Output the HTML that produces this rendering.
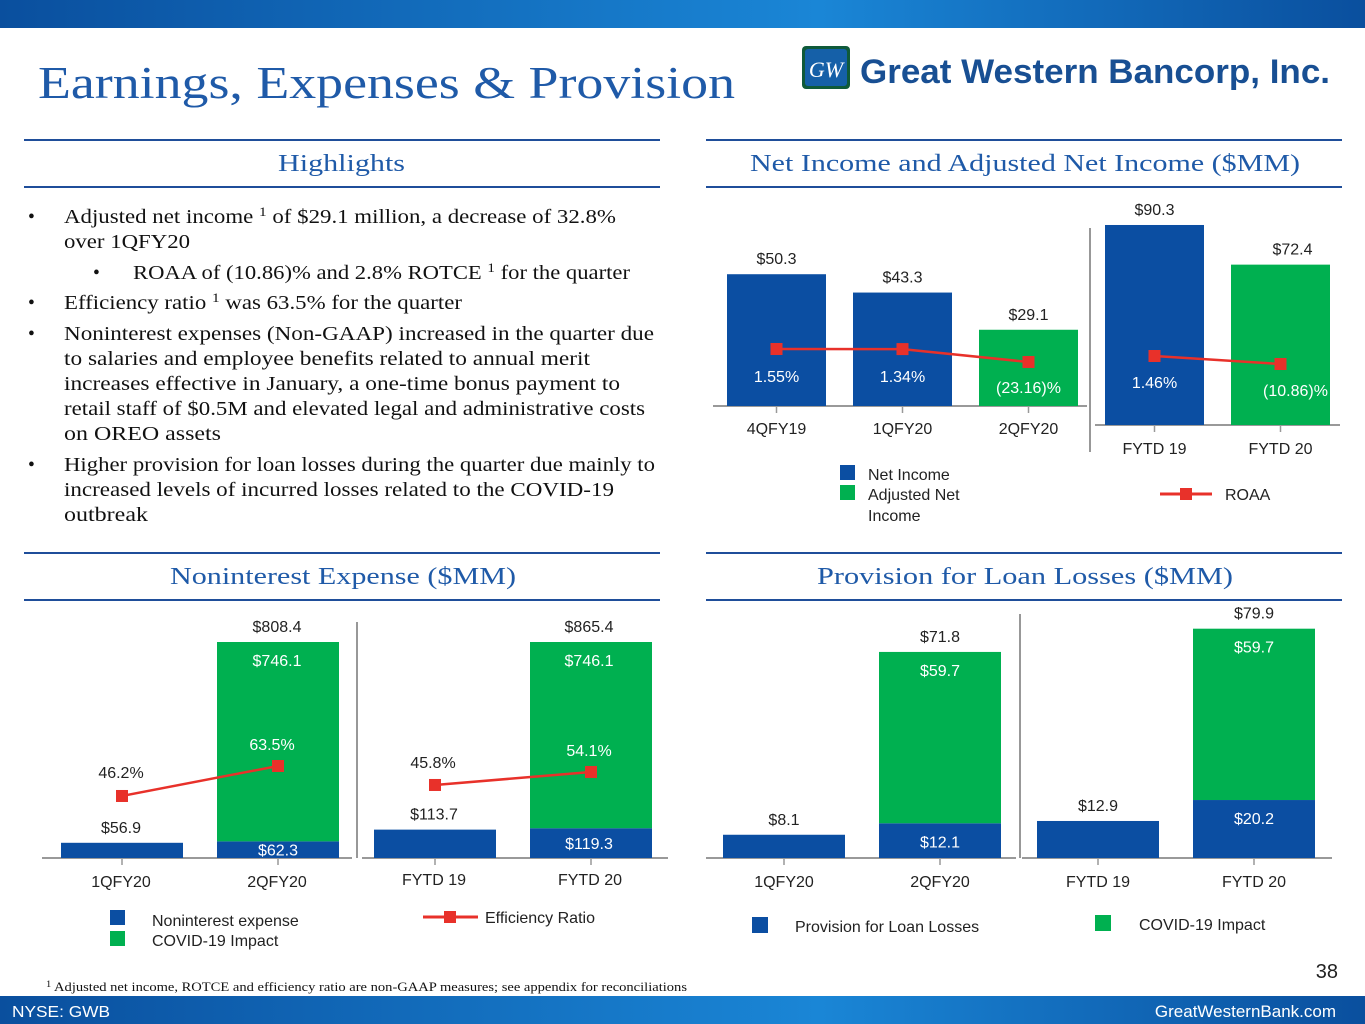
<!DOCTYPE html>
<html><head><meta charset="utf-8"><style>
html,body{margin:0;padding:0;background:#fff}
svg{display:block}
.s{font-family:"Liberation Sans",sans-serif;font-size:16px;fill:#222}
.w{fill:#fff}
.sr{font-family:"Liberation Serif",serif;font-size:19.5px;fill:#111}
.hd{font-family:"Liberation Serif",serif;font-size:24px;fill:#1f5aa8}
</style></head><body>
<svg id="pg" width="1365" height="1024" viewBox="0 0 1365 1024" xmlns="http://www.w3.org/2000/svg">
<defs>
<linearGradient id="tb" x1="0" x2="1"><stop offset="0" stop-color="#0a4f9e"/><stop offset="0.6" stop-color="#1a86d6"/><stop offset="1" stop-color="#0a4f9e"/></linearGradient>
</defs>
<rect x="0" y="0" width="1365" height="28" fill="url(#tb)"/>
<text x="38" y="98" font-family="Liberation Serif,serif" font-size="45" fill="#1f5aa8" textLength="697" lengthAdjust="spacingAndGlyphs">Earnings, Expenses &amp; Provision</text>
<g>
<rect x="802" y="46" width="48" height="43" rx="4" fill="#0f5a3a"/><rect x="805" y="49" width="42" height="37" rx="3" fill="#1560a8"/>
<text x="826" y="77" text-anchor="middle" font-family="Liberation Serif,serif" font-style="italic" font-size="22" fill="#fff">GW</text>
<text x="860" y="83" font-family="Liberation Sans,sans-serif" font-weight="bold" font-size="34" fill="#184f93" textLength="470" lengthAdjust="spacingAndGlyphs">Great Western Bancorp, Inc.</text>
</g>
<g stroke="#1f4e9a" stroke-width="2">
<line x1="24" y1="140" x2="660" y2="140"/><line x1="24" y1="187" x2="660" y2="187"/>
<line x1="706" y1="140" x2="1342" y2="140"/><line x1="706" y1="187" x2="1342" y2="187"/>
<line x1="24" y1="553" x2="660" y2="553"/><line x1="24" y1="600" x2="660" y2="600"/>
<line x1="706" y1="553" x2="1342" y2="553"/><line x1="706" y1="600" x2="1342" y2="600"/>
</g>
<text class="hd" x="278" y="171" textLength="127" lengthAdjust="spacingAndGlyphs">Highlights</text>
<text class="hd" x="750" y="171" textLength="550" lengthAdjust="spacingAndGlyphs">Net Income and Adjusted Net Income ($MM)</text>
<text class="hd" x="170" y="584" textLength="346" lengthAdjust="spacingAndGlyphs">Noninterest Expense ($MM)</text>
<text class="hd" x="817" y="584" textLength="416" lengthAdjust="spacingAndGlyphs">Provision for Loan Losses ($MM)</text>

<g>
<text class="sr" x="28" y="223">•</text><text class="sr" x="28" y="309">•</text><text class="sr" x="28" y="340">•</text><text class="sr" x="28" y="471">•</text><text class="sr" x="93" y="279">•</text>
<text class="sr" x="64" y="223" textLength="552" lengthAdjust="spacingAndGlyphs">Adjusted net income <tspan font-size="13" dy="-7">1</tspan><tspan dy="7"> of $29.1 million, a decrease of 32.8%</tspan></text>
<text class="sr" x="64" y="248" textLength="126" lengthAdjust="spacingAndGlyphs">over 1QFY20</text>
<text class="sr" x="133" y="279" textLength="497" lengthAdjust="spacingAndGlyphs">ROAA of (10.86)% and 2.8% ROTCE <tspan font-size="13" dy="-7">1</tspan><tspan dy="7"> for the quarter</tspan></text>
<text class="sr" x="64" y="309" textLength="398" lengthAdjust="spacingAndGlyphs">Efficiency ratio <tspan font-size="13" dy="-7">1</tspan><tspan dy="7">  was 63.5% for the quarter</tspan></text>
<text class="sr" x="64" y="340" textLength="590" lengthAdjust="spacingAndGlyphs">Noninterest expenses (Non-GAAP) increased in the quarter due</text>
<text class="sr" x="64" y="365" textLength="526" lengthAdjust="spacingAndGlyphs">to salaries and employee benefits related to annual merit</text>
<text class="sr" x="64" y="390" textLength="556" lengthAdjust="spacingAndGlyphs">increases effective in January, a one-time bonus payment to</text>
<text class="sr" x="64" y="415" textLength="581" lengthAdjust="spacingAndGlyphs">retail staff of $0.5M and elevated legal and administrative costs</text>
<text class="sr" x="64" y="440" textLength="157" lengthAdjust="spacingAndGlyphs">on OREO assets</text>
<text class="sr" x="64" y="471" textLength="591" lengthAdjust="spacingAndGlyphs">Higher provision for loan losses during the quarter due mainly to</text>
<text class="sr" x="64" y="496" textLength="550" lengthAdjust="spacingAndGlyphs">increased levels of incurred losses related to the COVID-19</text>
<text class="sr" x="64" y="521" textLength="84" lengthAdjust="spacingAndGlyphs">outbreak</text>
</g>

<g id="c1"></g>
<g id="c2"></g>
<g id="c3"></g>

<g>
<rect x="840" y="465" width="15" height="15" fill="#0b4ea2"/><text class="s" x="868" y="480">Net Income</text>
<rect x="840" y="485" width="15" height="15" fill="#00b050"/><text class="s" x="868" y="500">Adjusted Net</text><text class="s" x="868" y="521">Income</text>
<line x1="1160" y1="494" x2="1212" y2="494" stroke="#e8312a" stroke-width="3"/><rect x="1180" y="488" width="12" height="12" fill="#e8312a"/><text class="s" x="1225" y="500">ROAA</text>
</g>
<g>
<rect x="110" y="910" width="15" height="15" fill="#0b4ea2"/><text class="s" x="152" y="926">Noninterest expense</text>
<rect x="110" y="931" width="15" height="15" fill="#00b050"/><text class="s" x="152" y="946">COVID-19 Impact</text>
<line x1="423" y1="917" x2="478" y2="917" stroke="#e8312a" stroke-width="3"/><rect x="444" y="911" width="12" height="12" fill="#e8312a"/><text class="s" x="485" y="923">Efficiency Ratio</text>
</g>
<g>
<rect x="752" y="917" width="16" height="16" fill="#0b4ea2"/><text class="s" x="795" y="932">Provision for Loan Losses</text>
<rect x="1095" y="915" width="16" height="16" fill="#00b050"/><text class="s" x="1139" y="930">COVID-19 Impact</text>
</g>

<text x="1338" y="978" text-anchor="end" font-family="Liberation Sans,sans-serif" font-size="20" fill="#222">38</text>
<text x="46" y="991" font-family="Liberation Serif,serif" font-size="12.5" fill="#111" textLength="641" lengthAdjust="spacingAndGlyphs"><tspan font-size="9" dy="-4">1</tspan><tspan dy="4"> Adjusted net income, ROTCE and efficiency ratio are non-GAAP measures; see appendix for reconciliations</tspan></text>
<rect x="0" y="996" width="1365" height="28" fill="url(#tb)"/>
<text x="12" y="1017" font-family="Liberation Sans,sans-serif" font-size="16" fill="#fff" textLength="98" lengthAdjust="spacingAndGlyphs">NYSE: GWB</text>
<text x="1336" y="1017" text-anchor="end" font-family="Liberation Sans,sans-serif" font-size="17" fill="#fff">GreatWesternBank.com</text>
</svg>
<script>
// ---- Net income chart data
const niCatsQ = ["4QFY19","1QFY20","2QFY20"];
const niValsQ = [50.3, 43.3, 29.1];
const niGreenQ = [false, false, true];
const roaaQ = [1.55, 1.34, -23.16];
const roaaQLabels = ["1.55%","1.34%","(23.16)%"];
const niCatsY = ["FYTD 19","FYTD 20"];
const niValsY = [90.3, 72.4];
const niGreenY = [false, true];
const roaaY = [1.46, -10.86];
const roaaYLabels = ["1.46%","(10.86)%"];
// ---- Noninterest expense data
const neCatsQ = ["1QFY20","2QFY20"];
const neBaseQ = [56.9, 62.3];
const neCovidQ = [0, 746.1];
const neTotalQ = [56.9, 808.4];
const effQ = [46.2, 63.5];
const neCatsY = ["FYTD 19","FYTD 20"];
const neBaseY = [113.7, 119.3];
const neCovidY = [0, 746.1];
const neTotalY = [113.7, 865.4];
const effY = [45.8, 54.1];
// ---- Provision data
const prCatsQ = ["1QFY20","2QFY20"];
const prBaseQ = [8.1, 12.1];
const prCovidQ = [0, 59.7];
const prTotalQ = [8.1, 71.8];
const prCatsY = ["FYTD 19","FYTD 20"];
const prBaseY = [12.9, 20.2];
const prCovidY = [0, 59.7];
const prTotalY = [12.9, 79.9];

const NS="http://www.w3.org/2000/svg";
const BLUE="#0b4ea2", GREEN="#00b050", RED="#e8312a";
function mk(parent, tag, attrs, txt){
  const e=document.createElementNS(NS,tag);
  for(const k in attrs) e.setAttribute(k, attrs[k]);
  if(txt!==undefined) e.textContent=txt;
  parent.appendChild(e); return e;
}
function label(p, x, y, t, white, name){
  const e=mk(p,"text",{x:x,y:y,"text-anchor":"middle","class":white?"s w":"s"},t);
  
  
  return e;
}
function axis(p, x1, x2, y, ticks){
  const l=mk(p,"line",{x1:x1,x2:x2,y1:y,y2:y,stroke:"#999","stroke-width":2});
  
  
  ticks.forEach(tx=>{ const t=mk(p,"line",{x1:tx,x2:tx,y1:y,y2:y+7,stroke:"#999","stroke-width":1.5});
    
     });
}
function sep(p,x,y1,y2){
  const l=mk(p,"line",{x1:x,x2:x,y1:y1,y2:y2,stroke:"#777","stroke-width":1.5});
  
  
}
function bar(p,x,w,y0,y1,fill,name){
  const r=mk(p,"rect",{x:x,y:Math.min(y0,y1),width:w,height:Math.abs(y0-y1),fill:fill});
  
  
  return r;
}
function line(p, xs, ys, name){
  const pl=mk(p,"polyline",{points:xs.map((x,i)=>x+","+ys[i]).join(" "),fill:"none",stroke:RED,"stroke-width":2.5});
  
  
  xs.forEach((x,i)=>{ const m=mk(p,"rect",{x:x-6,y:ys[i]-6,width:12,height:12,fill:RED});
    
     });
}

// ===== Chart 1
(function(){
  const g=document.getElementById("c1");
  const baseQ=406, kQ=2.62, x0=727, step=126, bw=99;
  const xQ=i=>x0+i*step, yQ=v=>baseQ-v*kQ;
  const rQ=v=>349.1-(v-1.34)*0.526;
  axis(g,713,1087,baseQ,niCatsQ.map((c,i)=>xQ(i)+bw/2));
  niValsQ.forEach((v,i)=>{
    bar(g,xQ(i),bw,baseQ,yQ(v),niGreenQ[i]?GREEN:BLUE,'net-income-bar');
    label(g,xQ(i)+bw/2,yQ(v)-10,"$"+v.toFixed(1),false,'bar-value-label');
    label(g,xQ(i)+bw/2,434,niCatsQ[i],false,'category-label');
  });
  line(g,niValsQ.map((v,i)=>xQ(i)+bw/2),roaaQ.map(rQ),'roaa-line');
  roaaQ.forEach((v,i)=>label(g,xQ(i)+bw/2,(v<0?393:382),roaaQLabels[i],true,'roaa-label'));
  const baseY=425, kY=2.215, x1=1105, stepY=126;
  const xY=i=>x1+i*stepY, yY=v=>baseY-v*kY;
  const rY=v=>356-(v-1.46)*0.65;
  sep(g,1090,228,452);
  axis(g,1095,1340,baseY,niCatsY.map((c,i)=>xY(i)+bw/2));
  niValsY.forEach((v,i)=>{
    bar(g,xY(i),bw,baseY,yY(v),niGreenY[i]?GREEN:BLUE,'ytd-net-income-bar');
    label(g,xY(i)+bw/2+(i?12:0),yY(v)-10,"$"+v.toFixed(1),false,'bar-value-label');
    label(g,xY(i)+bw/2,454,niCatsY[i],false,'category-label');
  });
  line(g,niValsY.map((v,i)=>xY(i)+bw/2),roaaY.map(rY),'roaa-ytd-line');
  roaaY.forEach((v,i)=>label(g,xY(i)+bw/2+(i?15:0),(v<0?396:388),roaaYLabels[i],true,'roaa-label'));
})();

// ===== Chart 2
(function(){
  const g=document.getElementById("c2");
  const base=858, bw=122;
  const kQ=216/808.4, kY=216/865.4;
  const xQ=i=>61+i*156, xY=i=>374+i*156;
  const eQ=v=>876.1-1.734*v, eY=v=>856.7-1.566*v;
  axis(g,42,352,base,neCatsQ.map((c,i)=>xQ(i)+bw/2));
  axis(g,362,668,base,neCatsY.map((c,i)=>xY(i)+bw/2));
  sep(g,357,622,858);
  neCatsQ.forEach((c,i)=>{
    const yb=base-neBaseQ[i]*kQ, yt=yb-neCovidQ[i]*kQ;
    bar(g,xQ(i),bw,base,yb,BLUE,'noninterest-bar');
    if(neCovidQ[i]>0){ bar(g,xQ(i),bw,yb,yt,GREEN,'covid-impact-bar');
      label(g,xQ(i)+bw/2-1,yt-10,"$"+neTotalQ[i].toFixed(1),false,'total-label');
      label(g,xQ(i)+bw/2-1,yt+24,"$"+neCovidQ[i].toFixed(1),true,'covid-label');
      label(g,xQ(i)+bw/2,yb+14,"$"+neBaseQ[i].toFixed(1),true,'base-label');
    } else label(g,xQ(i)+bw/2-1,yb-10,"$"+neBaseQ[i].toFixed(1),false,'base-label');
    label(g,xQ(i)+bw/2-1,887,c,false,'category-label');
  });
  line(g,neCatsQ.map((c,i)=>xQ(i)+bw/2),effQ.map(eQ),'efficiency-line');
  effQ.forEach((v,i)=>label(g,xQ(i)+bw/2+(i?-6:-1),eQ(v)-(i?16:18),v.toFixed(1)+"%",i===1,'efficiency-label'));
  neCatsY.forEach((c,i)=>{
    const yb=base-neBaseY[i]*kY, yt=yb-neCovidY[i]*kY;
    bar(g,xY(i),bw,base,yb,BLUE,'ytd-noninterest-bar');
    if(neCovidY[i]>0){ bar(g,xY(i),bw,yb,yt,GREEN,'ytd-covid-impact-bar');
      label(g,xY(i)+bw/2-2,yt-10,"$"+neTotalY[i].toFixed(1),false,'total-label');
      label(g,xY(i)+bw/2-2,yt+24,"$"+neCovidY[i].toFixed(1),true,'covid-label');
      label(g,xY(i)+bw/2-2,yb+21,"$"+neBaseY[i].toFixed(1),true,'base-label');
    } else label(g,xY(i)+bw/2-1,yb-10,"$"+neBaseY[i].toFixed(1),false,'base-label');
    label(g,xY(i)+bw/2-1,885,c,false,'category-label');
  });
  line(g,neCatsY.map((c,i)=>xY(i)+bw/2),effY.map(eY),'efficiency-ytd-line');
  effY.forEach((v,i)=>label(g,xY(i)+bw/2-2,eY(v)-(i?16:17),v.toFixed(1)+"%",i===1,'efficiency-label'));
})();

// ===== Chart 3
(function(){
  const g=document.getElementById("c3");
  const base=858, bw=122, k=2.87;
  const xQ=i=>723+i*156, xY=i=>1037+i*156;
  axis(g,706,1016,base,prCatsQ.map((c,i)=>xQ(i)+bw/2));
  axis(g,1022,1332,base,prCatsY.map((c,i)=>xY(i)+bw/2));
  sep(g,1020,614,858);
  function grp(cats,bases,covs,tots,xf,pre){
    cats.forEach((c,i)=>{
      const yb=base-bases[i]*k, yt=yb-covs[i]*k;
      bar(g,xf(i),bw,base,yb,BLUE,pre+'provision-bar');
      if(covs[i]>0){ bar(g,xf(i),bw,yb,yt,GREEN,pre+'covid-impact-bar');
        label(g,xf(i)+bw/2,yt-10,"$"+tots[i].toFixed(1),false,'total-label');
        label(g,xf(i)+bw/2,yt+24,"$"+covs[i].toFixed(1),true,'covid-label');
        label(g,xf(i)+bw/2,Math.min(yb+24,base-10),"$"+bases[i].toFixed(1),true,'base-label');
      } else label(g,xf(i)+bw/2,yb-10,"$"+bases[i].toFixed(1),false,'base-label');
      label(g,xf(i)+bw/2,887,c,false,'category-label');
    });
  }
  grp(prCatsQ,prBaseQ,prCovidQ,prTotalQ,xQ,'');
  grp(prCatsY,prBaseY,prCovidY,prTotalY,xY,'ytd-');
})();
</script>
</body></html>
